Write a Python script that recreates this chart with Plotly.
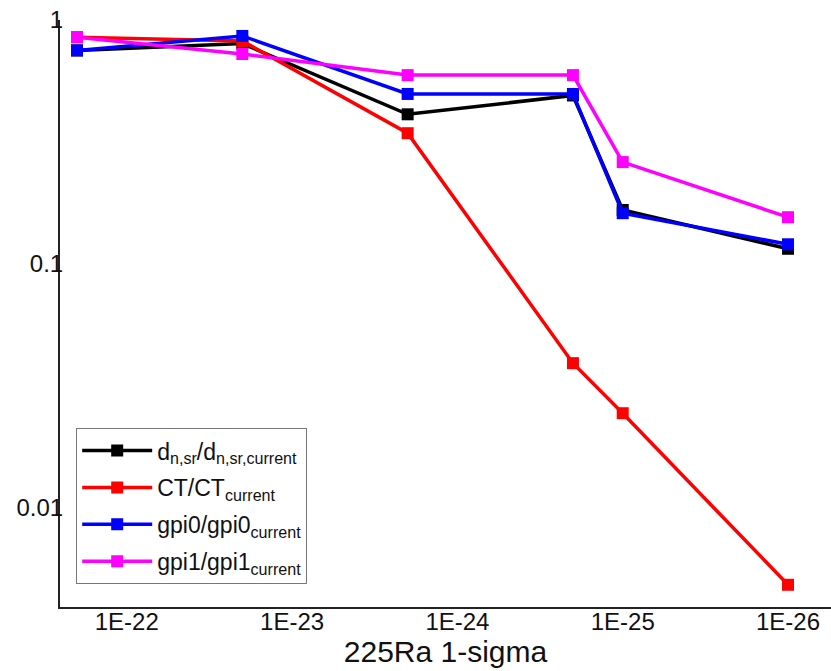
import plotly.graph_objects as go

# 225Ra EDM 1-sigma sensitivity (x) vs. ratio of each parameter to its current bound (y)
sigma = [2e-22, 2e-23, 2e-24, 2e-25, 1e-25, 1e-26]

dn_sr_ratio = [0.75, 0.80, 0.41, 0.49, 0.166, 0.115]
ct_ratio = [0.85, 0.82, 0.343, 0.039, 0.0243, 0.0048]
gpi0_ratio = [0.75, 0.86, 0.497, 0.497, 0.161, 0.120]
gpi1_ratio = [0.85, 0.725, 0.594, 0.594, 0.261, 0.155]

series_names = [
    "d<sub>n,sr</sub>/d<sub>n,sr,current</sub>",
    "CT/CT<sub>current</sub>",
    "gpi0/gpi0<sub>current</sub>",
    "gpi1/gpi1<sub>current</sub>",
]
series_values = [dn_sr_ratio, ct_ratio, gpi0_ratio, gpi1_ratio]
series_colors = ["#000000", "#ff0000", "#0000ff", "#ff00ff"]

x_tick_vals = [1e-22, 1e-23, 1e-24, 1e-25, 1e-26]
x_tick_text = ["1E-22", "1E-23", "1E-24", "1E-25", "1E-26"]
y_tick_vals = [0.01, 0.1, 1]
y_tick_text = ["0.01", "0.1", "1"]

FONT = "Liberation Sans, Arial, sans-serif"

fig = go.Figure()
for i, (name, vals, col) in enumerate(zip(series_names, series_values, series_colors)):
    fig.add_trace(go.Scatter(
        x=sigma, y=vals, name=name, mode="lines+markers",
        legendgroup=f"g{i}",
        line=dict(color=col, width=3.5),
        marker=dict(symbol="square", size=12, color=col),
    ))

fig.update_layout(
    width=831, height=671,
    margin=dict(l=60, r=0, t=20, b=64),
    paper_bgcolor="white", plot_bgcolor="white",
    font=dict(family=FONT, color="#111111"),
    legend=dict(
        x=0.021, y=0.039, xanchor="left", yanchor="bottom",
        bordercolor="#777777", borderwidth=1, bgcolor="white",
        font=dict(family=FONT, size=23, color="#111111"),
        itemwidth=70, traceorder="grouped", tracegroupgap=4,
    ),
    showlegend=True,
)

fig.update_xaxes(
    type="log", range=[-21.596, -26.26],
    tickvals=x_tick_vals, ticktext=x_tick_text,
    tickfont=dict(size=24), ticks="", ticklabelstandoff=-8,
    showgrid=False, zeroline=False,
    showline=True, linecolor="#222222", linewidth=2,
    title=dict(text="225Ra 1-sigma", font=dict(size=30), standoff=0),
)
fig.update_yaxes(
    type="log", range=[-2.41, 0],
    tickvals=y_tick_vals, ticktext=y_tick_text,
    tickfont=dict(size=24), ticks="", ticklabelstandoff=-10,
    showgrid=False, zeroline=False,
    showline=True, linecolor="#222222", linewidth=2,
)

fig.write_html("out.html")
